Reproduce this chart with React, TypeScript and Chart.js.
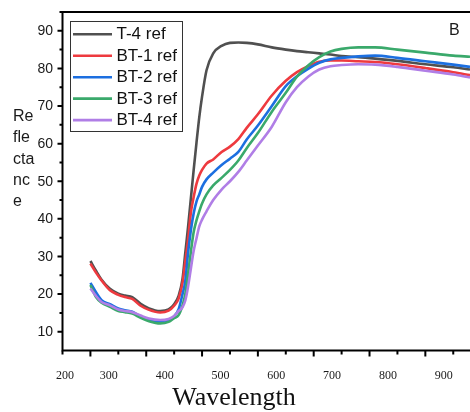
import React, { useEffect, useRef } from "react";
import { Chart, registerables } from "chart.js";

Chart.register(...registerables);

const wavelengths = [250, 260, 270, 285, 300, 312, 325, 340, 355, 375, 390, 400, 408, 415, 420, 425, 430, 435, 440, 445, 450, 458, 470, 485, 500, 515, 530, 550, 575, 600, 620, 640, 660, 680, 700, 730, 760, 800, 850, 900, 930];

const t4 = [28.8, 26.2, 23.8, 21.4, 20.1, 19.6, 19.2, 17.4, 16.2, 15.5, 15.9, 17.3, 19.5, 24.0, 31.0, 37.9, 45.5, 53.0, 60.2, 67.0, 72.5, 79.5, 84.0, 86.0, 86.8, 86.9, 86.8, 86.4, 85.6, 85.0, 84.6, 84.3, 84.0, 83.7, 83.3, 83.0, 82.6, 82.0, 81.1, 80.3, 79.7];
const bt1 = [28.1, 25.7, 23.6, 21.0, 19.8, 19.2, 18.7, 16.9, 15.8, 15.1, 15.6, 16.9, 18.8, 23.0, 28.7, 34.5, 41.7, 45.8, 49.3, 51.5, 53.0, 54.7, 55.8, 57.8, 59.2, 61.2, 64.2, 67.8, 72.8, 76.7, 79.0, 80.6, 81.8, 82.1, 82.1, 81.9, 81.7, 81.1, 80.1, 79.0, 78.2];
const bt2 = [23.0, 20.5, 18.4, 17.3, 16.2, 15.7, 15.3, 14.0, 13.2, 12.6, 13.0, 14.1, 16.0, 20.0, 23.5, 31.0, 37.0, 41.5, 44.6, 46.5, 48.5, 50.5, 52.3, 54.3, 56.0, 57.8, 61.1, 64.8, 70.0, 75.3, 77.9, 79.9, 81.5, 82.4, 82.8, 83.2, 83.4, 82.8, 81.9, 81.0, 80.4];
const bt3 = [22.4, 19.2, 17.7, 16.6, 15.5, 15.2, 14.8, 13.7, 12.8, 12.2, 12.6, 13.6, 14.4, 17.0, 20.0, 25.5, 31.3, 36.5, 39.6, 42.0, 44.1, 46.5, 48.9, 50.9, 53.0, 55.5, 58.8, 62.8, 68.5, 73.5, 77.8, 80.8, 83.0, 84.5, 85.2, 85.6, 85.6, 85.0, 84.2, 83.4, 83.1];
const bt4 = [21.5, 19.5, 17.9, 17.0, 15.9, 15.5, 15.2, 14.3, 13.5, 13.1, 13.4, 14.2, 15.5, 16.5, 18.3, 22.0, 26.8, 31.5, 34.8, 38.0, 39.8, 42.0, 45.0, 47.8, 50.0, 52.5, 55.5, 59.5, 64.5, 71.0, 75.0, 77.8, 79.7, 80.6, 80.9, 81.1, 81.0, 80.4, 79.4, 78.4, 77.6];

const seriesNames = ["T-4 ref", "BT-1 ref", "BT-2 ref", "BT-3 ref", "BT-4 ref"];
const seriesColors = ["#505050", "#ee3a3f", "#1c6fe0", "#3aa96b", "#b07ee6"];
const seriesValues = [t4, bt1, bt2, bt3, bt4];

const xTickLabels = [200, 300, 400, 500, 600, 700, 800, 900];
const xMajorTicks = [250, 350, 450, 550, 650, 750, 850];
const xMinorTicks = [200, 300, 400, 500, 600, 700, 800, 900];
const yTickLabels = [10, 20, 30, 40, 50, 60, 70, 80, 90];
const yMinorTicks = [15, 25, 35, 45, 55, 65, 75, 85, 95];
const yTitleLines = ["Re", "fle", "cta", "nc", "e"];
const xTitle = "Wavelength";
const panelLabel = "B";

const SANS = "'Liberation Sans', Arial, sans-serif";
const SERIF = "'Liberation Serif', 'Times New Roman', serif";

const axesPlugin = {
  id: "customAxes",
  afterDraw(chart: any) {
    const ctx = chart.ctx;
    const { left, right, top, bottom } = chart.chartArea;
    const xs = chart.scales.x;
    const ys = chart.scales.y;
    ctx.save();
    ctx.strokeStyle = "#000";
    ctx.lineWidth = 2;
    ctx.lineCap = "butt";
    ctx.beginPath();
    ctx.moveTo(left, top);
    ctx.lineTo(right, top);
    ctx.moveTo(left, top - 1);
    ctx.lineTo(left, bottom + 1);
    ctx.moveTo(left - 1, bottom);
    ctx.lineTo(right, bottom);
    ctx.stroke();

    ctx.beginPath();
    yTickLabels.forEach((v) => {
      const y = ys.getPixelForValue(v);
      ctx.moveTo(left - 5, y);
      ctx.lineTo(left, y);
    });
    yMinorTicks.forEach((v) => {
      const y = ys.getPixelForValue(v);
      ctx.moveTo(left - 3, y);
      ctx.lineTo(left, y);
    });
    xMajorTicks.forEach((v) => {
      const x = xs.getPixelForValue(v);
      ctx.moveTo(x, bottom);
      ctx.lineTo(x, bottom + 6);
    });
    xMinorTicks.forEach((v) => {
      const x = xs.getPixelForValue(v);
      ctx.moveTo(x, bottom);
      ctx.lineTo(x, bottom + 4);
    });
    ctx.stroke();

    ctx.fillStyle = "#1a1a1a";
    ctx.font = `14px ${SANS}`;
    ctx.textAlign = "right";
    ctx.textBaseline = "middle";
    yTickLabels.forEach((v) => {
      ctx.fillText(String(v), left - 9.5, ys.getPixelForValue(v) + 0.5);
    });

    ctx.font = `12px ${SERIF}`;
    ctx.textAlign = "center";
    ctx.textBaseline = "middle";
    xTickLabels.forEach((v, i) => {
      const x = xs.getPixelForValue(v) + (i === 0 ? 2.5 : -9.5);
      ctx.fillText(String(v), x, bottom + 25);
    });

    ctx.fillStyle = "#111";
    ctx.font = `26px ${SERIF}`;
    ctx.textAlign = "center";
    ctx.textBaseline = "alphabetic";
    ctx.fillText(xTitle, 234, 405);

    ctx.font = `16px ${SANS}`;
    ctx.textAlign = "left";
    ctx.fillStyle = "#1a1a1a";
    yTitleLines.forEach((s, i) => {
      ctx.fillText(s, 13, 121 + i * 21.3);
    });

    ctx.font = `16px ${SANS}`;
    ctx.fillText(panelLabel, 449, 35);

    const lx = 70.5, ly = 21.5, lw = 112, lh = 110;
    ctx.fillStyle = "#fff";
    ctx.fillRect(lx, ly, lw, lh);
    ctx.strokeStyle = "#333";
    ctx.lineWidth = 1;
    ctx.strokeRect(lx, ly, lw, lh);
    ctx.font = `17px ${SANS}`;
    ctx.textBaseline = "middle";
    seriesNames.forEach((name, i) => {
      const y = 34.3 + i * 21.45;
      ctx.strokeStyle = seriesColors[i];
      ctx.lineWidth = 2.6;
      ctx.beginPath();
      ctx.moveTo(73, y);
      ctx.lineTo(112, y);
      ctx.stroke();
      ctx.fillStyle = "#111";
      ctx.fillText(name, 116.5, y + 0.5);
    });
    ctx.restore();
  },
};

export default function App() {
  const ref = useRef<HTMLCanvasElement | null>(null);
  useEffect(() => {
    if (!ref.current) return;
    const chart = new Chart(ref.current, {
      type: "line",
      data: {
        datasets: seriesValues.map((vals, i) => ({
          label: seriesNames[i],
          data: wavelengths.map((w, j) => ({ x: w, y: vals[j] })),
          borderColor: seriesColors[i],
          backgroundColor: seriesColors[i],
          borderWidth: 2.6,
          pointRadius: 0,
          cubicInterpolationMode: "monotone" as const,
          order: 5 - i,
        })),
      },
      options: {
        responsive: false,
        animation: false,
        devicePixelRatio: 1,
        layout: { padding: { left: 62.5, top: 12, right: 0, bottom: 61.5 } },
        plugins: { legend: { display: false }, title: { display: false }, tooltip: { enabled: false } },
        scales: {
          x: { type: "linear", min: 200, max: 930, display: false },
          y: { type: "linear", min: 5, max: 95, display: false },
        },
      },
      plugins: [axesPlugin],
    });
    return () => chart.destroy();
  }, []);
  return (
    <div style={{ position: "absolute", left: 0, top: 0, width: 470, height: 412, background: "#fff" }}>
      <canvas ref={ref} width={470} height={412} />
    </div>
  );
}
